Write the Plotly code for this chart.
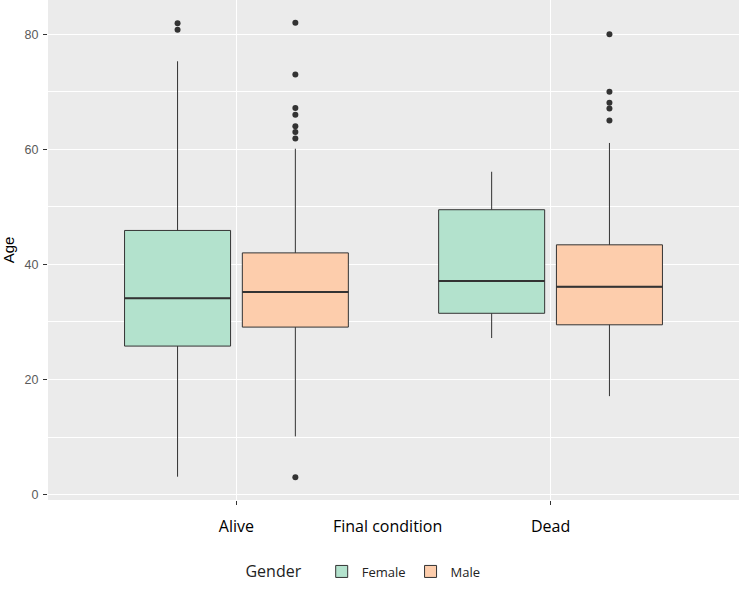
import plotly.graph_objects as go

# ---- data ----
categories = ["Alive", "Dead"]
genders = ["Female", "Male"]
colors = {"Female": "#b3e2cd", "Male": "#fdcdac"}

q1 = {"Female": [25.8, 31.5], "Male": [29.1, 29.5]}
median = {"Female": [34.1, 37.1], "Male": [35.2, 36.1]}
q3 = {"Female": [45.9, 49.5], "Male": [42.0, 43.4]}
lowerfence = {"Female": [3.1, 27.2], "Male": [10.1, 17.1]}
upperfence = {"Female": [75.3, 56.1], "Male": [60.1, 61.1]}
outliers = {
    "Female": [[81.9, 80.8], []],
    "Male": [[82.0, 73.0, 67.2, 66.0, 64.0, 63.0, 61.9, 3.0], [80.0, 70.0, 68.1, 67.1, 65.0]],
}

# ggplot-style dodge
DODGE = 0.375
BOXW = 0.3375
offsets = {"Female": -DODGE / 2, "Male": DODGE / 2}
cat_pos = [i + 1 for i in range(len(categories))]

LINE = "#333333"
fig = go.Figure()
for g in genders:
    xs = [c + offsets[g] for c in cat_pos]
    fig.add_trace(go.Box(
        x=xs, q1=q1[g], median=median[g], q3=q3[g],
        lowerfence=lowerfence[g], upperfence=upperfence[g],
        name=g, width=BOXW, fillcolor=colors[g],
        line=dict(color=LINE, width=1), whiskerwidth=0,
        boxpoints=False, showlegend=True, legendgroup=g,
    ))
    # thicker median line (ggplot fatten)
    mx, my = [], []
    for x, m in zip(xs, median[g]):
        mx += [x - BOXW / 2, x + BOXW / 2, None]
        my += [m, m, None]
    fig.add_trace(go.Scatter(x=mx, y=my, mode="lines", line=dict(color=LINE, width=2),
                             showlegend=False, hoverinfo="skip", legendgroup=g))
    ox, oy = [], []
    for x, pts in zip(xs, outliers[g]):
        ox += [x] * len(pts)
        oy += pts
    fig.add_trace(go.Scatter(x=ox, y=oy, mode="markers",
                             marker=dict(color=LINE, size=6),
                             showlegend=False, legendgroup=g))

fig.update_layout(
    width=750, height=606,
    margin=dict(l=48, r=11, t=0, b=106),
    paper_bgcolor="white", plot_bgcolor="#EBEBEB",
    font=dict(family="Open Sans", color="black"),
    showlegend=True,
    legend=dict(orientation="h", x=0.458, xanchor="center", y=-0.144, yanchor="middle",
                title=dict(text="Gender   ", font=dict(size=16, family="Open Sans")),
                font=dict(size=13, family="Open Sans", color="#222"),
                itemwidth=30),
    xaxis=dict(range=[0.4, 2.6], tickvals=cat_pos, ticktext=categories,
               showgrid=True, gridcolor="white", gridwidth=1.1, zeroline=False,
               ticks="outside", ticklen=4, tickcolor=LINE, tickwidth=1,
               ticklabelstandoff=8,
               tickfont=dict(size=16, family="Open Sans", color="black")),
    yaxis=dict(range=[-0.95, 85.95], tickvals=[0, 20, 40, 60, 80],
               showgrid=True, gridcolor="white", gridwidth=1.1, zeroline=False,
               minor=dict(dtick=10, tick0=0, showgrid=True, gridcolor="white", gridwidth=0.55),
               ticks="outside", ticklen=4, tickcolor=LINE, tickwidth=1,
               ticklabelstandoff=2,
               tickfont=dict(size=12.5, family="Liberation Sans", color="#5a5a5a"),
               title=dict(text="Age", font=dict(size=15, family="Liberation Sans", color="black"), standoff=8)),
    annotations=[dict(text="Final condition", xref="paper", yref="paper",
                      x=0.4906, y=-0.052, xanchor="center", yanchor="middle", showarrow=False,
                      font=dict(size=16, family="Open Sans", color="black"))],
)

fig.write_html("out.html")
